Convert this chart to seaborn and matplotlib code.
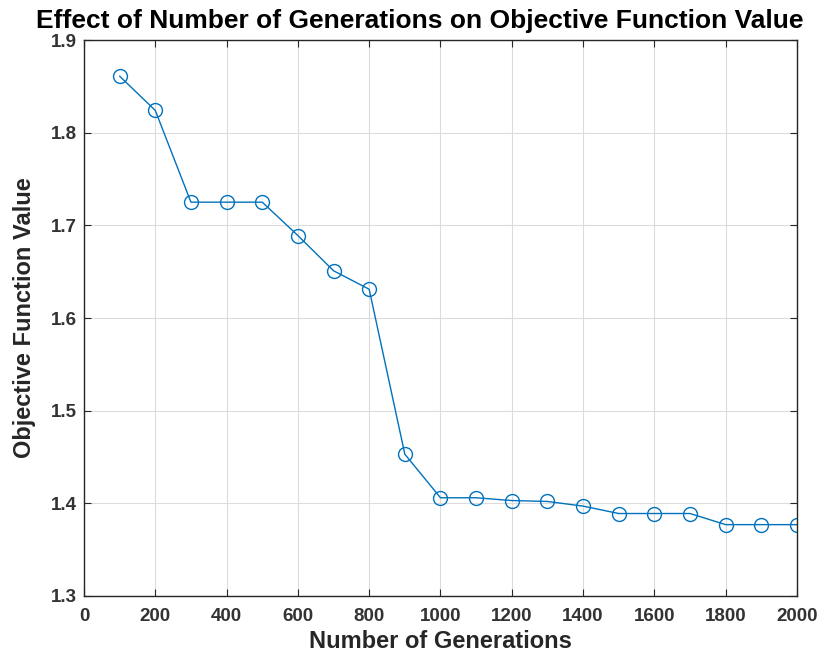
import matplotlib
matplotlib.use("Agg")
import matplotlib.pyplot as plt
import pandas as pd
import seaborn as sns

generations = [100, 200, 300, 400, 500, 600, 700, 800, 900, 1000,
               1100, 1200, 1300, 1400, 1500, 1600, 1700, 1800, 1900, 2000]
objective = [1.861, 1.824, 1.725, 1.725, 1.725, 1.689, 1.651, 1.631, 1.453, 1.406,
             1.406, 1.403, 1.402, 1.397, 1.389, 1.389, 1.389, 1.377, 1.377, 1.377]

df = pd.DataFrame({'gen': generations, 'obj': objective})

sns.set_style('whitegrid')
plt.rcParams['font.family'] = ['Liberation Sans', 'DejaVu Sans']

fig = plt.figure(figsize=(8.17, 6.55), dpi=100)
ax = fig.add_axes([0.1028, 0.0901, 0.8727, 0.8488])

sns.lineplot(data=df, x='gen', y='obj', ax=ax, color='#0072BD', linewidth=1.0,
             marker='o', markersize=10, markerfacecolor='none',
             markeredgecolor='#0072BD', markeredgewidth=1.0)

ax.set_xlim(0, 2000)
ax.set_ylim(1.3, 1.9)
ax.set_xticks(range(0, 2001, 200))
ax.set_yticks([1.3, 1.4, 1.5, 1.6, 1.7, 1.8, 1.9])
ax.set_yticklabels(['1.3', '1.4', '1.5', '1.6', '1.7', '1.8', '1.9'])

ax.grid(True, color='#dcdcdc', linewidth=0.8)
for s in ax.spines.values():
    s.set_visible(True)
    s.set_color('#262626')
    s.set_linewidth(1.0)

ax.tick_params(direction='in', length=5, width=0.8, top=True, right=True,
               bottom=True, left=True, labelsize=13.5, colors='#262626',
               labelcolor='#333333')
ax.tick_params(axis='x', pad=9)
ax.tick_params(axis='y', pad=5)
for lbl in ax.get_xticklabels() + ax.get_yticklabels():
    lbl.set_fontweight('bold')

ax.set_xlabel('Number of Generations', fontsize=17, fontweight='bold', color='#262626', labelpad=3)
ax.set_ylabel('Objective Function Value', fontsize=17, fontweight='bold', color='#262626')
ax.yaxis.set_label_coords(-0.068, 0.5)
ax.set_title('Effect of Number of Generations on Objective Function Value',
             fontsize=19, fontweight='bold', color='black', pad=9, x=0.471)

fig.savefig('out.png', dpi=100)
